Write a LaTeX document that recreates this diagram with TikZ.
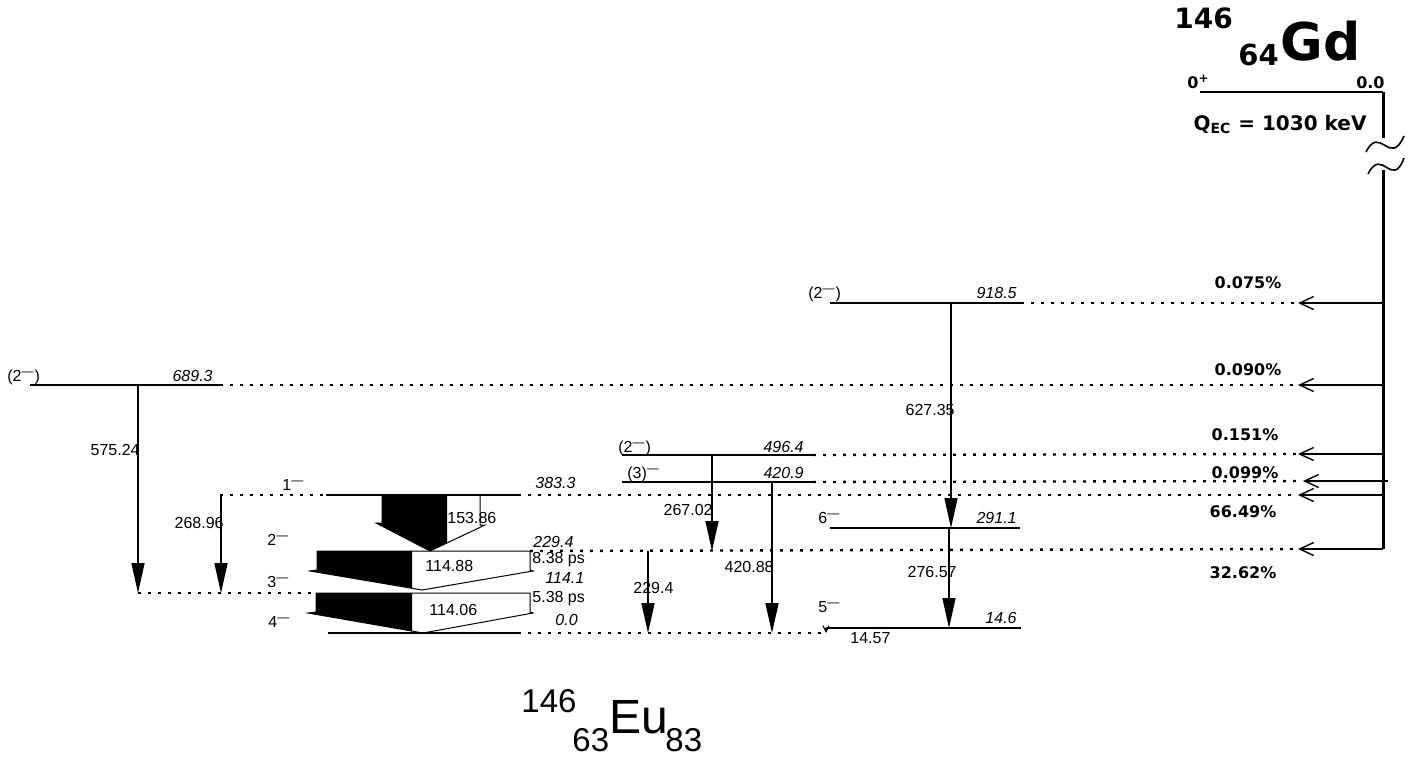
\documentclass[tikz,border=0pt]{standalone}
\usepackage{fontspec}
\setmainfont{Liberation Sans}
\newfontfamily\verdfont{DejaVu Sans}
\usetikzlibrary{arrows.meta}
\tikzset{
  lvl/.style={line width=1.25pt},
  dotlvl/.style={line width=1.2pt, dash pattern=on 1.4pt off 3.6pt},
  gam/.style={-{Triangle[length=15pt,width=6.5pt]}, line width=0.7pt},
  ecarrow/.style={-{Straight Barb[length=7pt,width=6.5pt]}, line width=0.7pt},
  lab/.style={inner sep=0pt, font=\fontsize{8}{9}\selectfont},
  enlab/.style={inner sep=0pt, font=\fontsize{8}{9}\selectfont\itshape},
  pct/.style={inner sep=0pt, font=\verdfont\bfseries\fontsize{8}{9}\selectfont},
  gdlab/.style={inner sep=0pt, font=\verdfont\bfseries},
  wide/.style={line width=0.5pt}
}

\begin{document}
\begin{tikzpicture}[x=0.5pt,y=-0.5pt]
  \useasboundingbox (0,0) rectangle (1419,762);

  % parent 146Gd
  \node[gdlab, anchor=base west, font=\verdfont\bfseries\fontsize{14}{14}\selectfont] (gdA) at (1174,28) {146};
  \node[gdlab, anchor=base west, font=\verdfont\bfseries\fontsize{14.5}{14}\selectfont] (gdZ) at (1238,65) {64};
  \node[gdlab, anchor=base west, font=\verdfont\bfseries\fontsize{26}{26}\selectfont] (gdEl) at (1280,60) {Gd};
  \coordinate (gdL) at (1200,92);
  \coordinate (gdR) at (1383,92);
  \draw[lvl] (gdL) -- (gdR);
  \node[gdlab, anchor=base west, font=\verdfont\bfseries\fontsize{8}{9}\selectfont] (gdJ) at (1187,88) {0\textsuperscript{+}};
  \node[gdlab, anchor=base east, font=\verdfont\bfseries\fontsize{8}{9}\selectfont] (gdE) at (1385,88) {0.0};
  \node[gdlab, anchor=base, font=\verdfont\bfseries\fontsize{10}{11}\selectfont] (qec) at (1280,130) {Q\textsubscript{EC} = 1030 keV};
  % EC line with break
  \coordinate (brkA) at (1383,138);
  \coordinate (brkB) at (1383,170);
  \coordinate (ecEnd) at (1383,549);
  \draw[line width=1.5pt] (gdR) -- (brkA);
  \draw[line width=1.5pt] (brkB) -- (ecEnd);
  \draw[line width=0.8pt] (1366,152) .. controls (1380,124) and (1390,168) .. (1404,136);
  \draw[line width=0.8pt] (1368,174) .. controls (1382,146) and (1392,190) .. (1404,158);

  % levels of 146Eu
  \coordinate (l918a) at (830,303);  \coordinate (l918b) at (1021,303);
  \coordinate (l689a) at (30,385);   \coordinate (l689b) at (220,385);
  \coordinate (l496a) at (622,455);  \coordinate (l496b) at (813,455);
  \coordinate (l420a) at (622,482);  \coordinate (l420b) at (813,482);
  \coordinate (l383a) at (326,495);  \coordinate (l383b) at (518,495);
  \coordinate (l291a) at (830,528);  \coordinate (l291b) at (1020,528);
  \coordinate (l229b) at (530,551);
  \coordinate (l114a) at (316,593);
  \coordinate (l014a) at (826,628);  \coordinate (l014b) at (1021,628);
  \coordinate (l000a) at (328,633);  \coordinate (l000b) at (518,633);
  \draw[lvl] (l918a) -- (l918b);
  \draw[lvl] (l689a) -- (l689b);
  \draw[lvl] (l496a) -- (l496b);
  \draw[lvl] (l420a) -- (l420b);
  \draw[lvl] (l383a) -- (l383b);
  \draw[lvl] (l291a) -- (l291b);
  \draw[lvl] (l014a) -- (l014b);

  % dotted continuations
  \coordinate (f918) at (1298,303);
  \coordinate (f689) at (1298,385);
  \coordinate (f496) at (1298,454);
  \coordinate (f420) at (1303,481);
  \coordinate (f383) at (1298,495);
  \coordinate (f229) at (1298,549);
  \coordinate (d383) at (220,495);
  \coordinate (d114) at (138,593);
  \coordinate (d000) at (826,633);
  \draw[dotlvl] (l918b) -- (f918);
  \draw[dotlvl] (l689b) -- (f689);
  \draw[dotlvl] (l496b) -- (f496);
  \draw[dotlvl] (l420b) -- (f420);
  \draw[dotlvl] (d383) -- (l383a);
  \draw[dotlvl] (l383b) -- (f383);
  \draw[dotlvl] (l229b) -- (f229);
  \draw[dotlvl] (d114) -- (l114a);
  \draw[dotlvl] (l000b) -- (d000);

  % EC feeding
  \draw[ecarrow] (1383,303) -- (f918);
  \draw[ecarrow] (1383,385) -- (f689);
  \draw[ecarrow] (1383,454) -- (f496);
  \draw[ecarrow] (1388,481) -- (f420);
  \draw[ecarrow] (1383,495) -- (f383);
  \draw[ecarrow] (ecEnd) -- (f229);
  \node[pct, anchor=base] (p918) at (1248,288) {0.075\%};
  \node[pct, anchor=base] (p689) at (1248,375) {0.090\%};
  \node[pct, anchor=base] (p496) at (1245,440) {0.151\%};
  \node[pct, anchor=base] (p420) at (1245,478) {0.099\%};
  \node[pct, anchor=base] (p383) at (1243,517) {66.49\%};
  \node[pct, anchor=base] (p229) at (1243,578) {32.62\%};

  % wide transitions
  \fill (382,495) -- (382,523) -- (376,523) -- (430,551) -- (447,543) -- (447,495) -- cycle;
  \draw[wide] (382,495) -- (382,523) -- (376,523) -- (430,551) -- (485,525) -- (480,525) -- (480,495);
  \fill (317,551) -- (317,570) -- (310,571) -- (412,588) -- (412,551) -- cycle;
  \draw[wide] (317,551) -- (317,570) -- (310,571) -- (422,590) -- (533,571) -- (530,570) -- (530,551) -- cycle;
  \fill (316,593) -- (316,612) -- (308,613) -- (412,631) -- (412,593) -- cycle;
  \draw[wide] (316,593) -- (316,612) -- (308,613) -- (423,633) -- (533,613) -- (530,612) -- (530,593) -- cycle;
  \draw[lvl] (l000a) -- (l000b);

  % gamma transitions
  \coordinate (g575a) at (138,385);  \coordinate (g575b) at (138,593);
  \coordinate (g268a) at (221,495);  \coordinate (g268b) at (221,593);
  \coordinate (g267a) at (712,455);  \coordinate (g267b) at (712,551);
  \coordinate (g229a) at (648,551);  \coordinate (g229b) at (648,633);
  \coordinate (g420a) at (772,482);  \coordinate (g420b) at (772,633);
  \coordinate (g627a) at (951,303);  \coordinate (g627b) at (951,528);
  \coordinate (g276a) at (949,528);  \coordinate (g276b) at (949,628);
  \draw[gam] (g575a) -- (g575b);
  \draw[gam] (g268a) -- (g268b);
  \draw[gam] (g267a) -- (g267b);
  \draw[gam] (g229a) -- (g229b);
  \draw[gam] (g420a) -- (g420b);
  \draw[gam] (g627a) -- (g627b);
  \draw[gam] (g276a) -- (g276b);
  \draw[-{Straight Barb[length=3pt,width=3pt]}, line width=0.6pt] (l014a) -- (d000);

  % spins
  \node[lab, anchor=base west] (s689) at (7,381) {(2\textsuperscript{—})};
  \node[lab, anchor=base west] (s383) at (282,490) {1\textsuperscript{—}};
  \node[lab, anchor=base west] (s229) at (267,545) {2\textsuperscript{—}};
  \node[lab, anchor=base west] (s114) at (267,587) {3\textsuperscript{—}};
  \node[lab, anchor=base west] (s000) at (268,627) {4\textsuperscript{—}};
  \node[lab, anchor=base west] (s496) at (618,452) {(2\textsuperscript{—})};
  \node[lab, anchor=base west] (s420) at (627,478) {(3)\textsuperscript{—}};
  \node[lab, anchor=base west] (s918) at (808,298) {(2\textsuperscript{—})};
  \node[lab, anchor=base west] (s291) at (818,523) {6\textsuperscript{—}};
  \node[lab, anchor=base west] (s014) at (818,612) {5\textsuperscript{—}};

  % energies
  \node[enlab, anchor=base east] (e689) at (213,381) {689.3};
  \node[enlab, anchor=base west] (e383) at (535,488) {383.3};
  \node[enlab, anchor=base west] (e229) at (533,547) {229.4};
  \node[enlab, anchor=base west] (e114) at (545,583) {114.1};
  \node[enlab, anchor=base west] (e000) at (555,625) {0.0};
  \node[enlab, anchor=base east] (e496) at (804,452) {496.4};
  \node[enlab, anchor=base east] (e420) at (804,478) {420.9};
  \node[enlab, anchor=base east] (e918) at (1017,298) {918.5};
  \node[enlab, anchor=base east] (e291) at (1017,523) {291.1};
  \node[enlab, anchor=base east] (e014) at (1017,623) {14.6};
  \node[lab, anchor=base west] (t229) at (532,563) {8.38 ps};
  \node[lab, anchor=base west] (t114) at (532,602) {5.38 ps};

  % gamma energies
  \node[lab, anchor=base east] (x575) at (140,455) {575.24};
  \node[lab, anchor=base east] (x268) at (224,528) {268.96};
  \node[lab, anchor=base west] (x153) at (447,523) {153.86};
  \node[lab, anchor=base west] (x114a) at (425,571) {114.88};
  \node[lab, anchor=base west] (x114b) at (429,615) {114.06};
  \node[lab, anchor=base east] (x267) at (713,515) {267.02};
  \node[lab, anchor=base west] (x229) at (633,593) {229.4};
  \node[lab, anchor=base east] (x420) at (774,572) {420.88};
  \node[lab, anchor=base east] (x627) at (955,415) {627.35};
  \node[lab, anchor=base east] (x276) at (957,577) {276.57};
  \node[lab, anchor=base west] (x014) at (850,643) {14.57};

  % daughter 146Eu
  \node[lab, anchor=base west, font=\fontsize{16.5}{17}\selectfont] (euA) at (521,712) {146};
  \node[lab, anchor=base west, font=\fontsize{16.5}{17}\selectfont] (euZ) at (572,751) {63};
  \node[lab, anchor=base west, font=\fontsize{24}{24}\selectfont] (euEl) at (609,733) {Eu};
  \node[lab, anchor=base west, font=\fontsize{16.5}{17}\selectfont] (euN) at (665,751) {83};
\end{tikzpicture}
\end{document}
